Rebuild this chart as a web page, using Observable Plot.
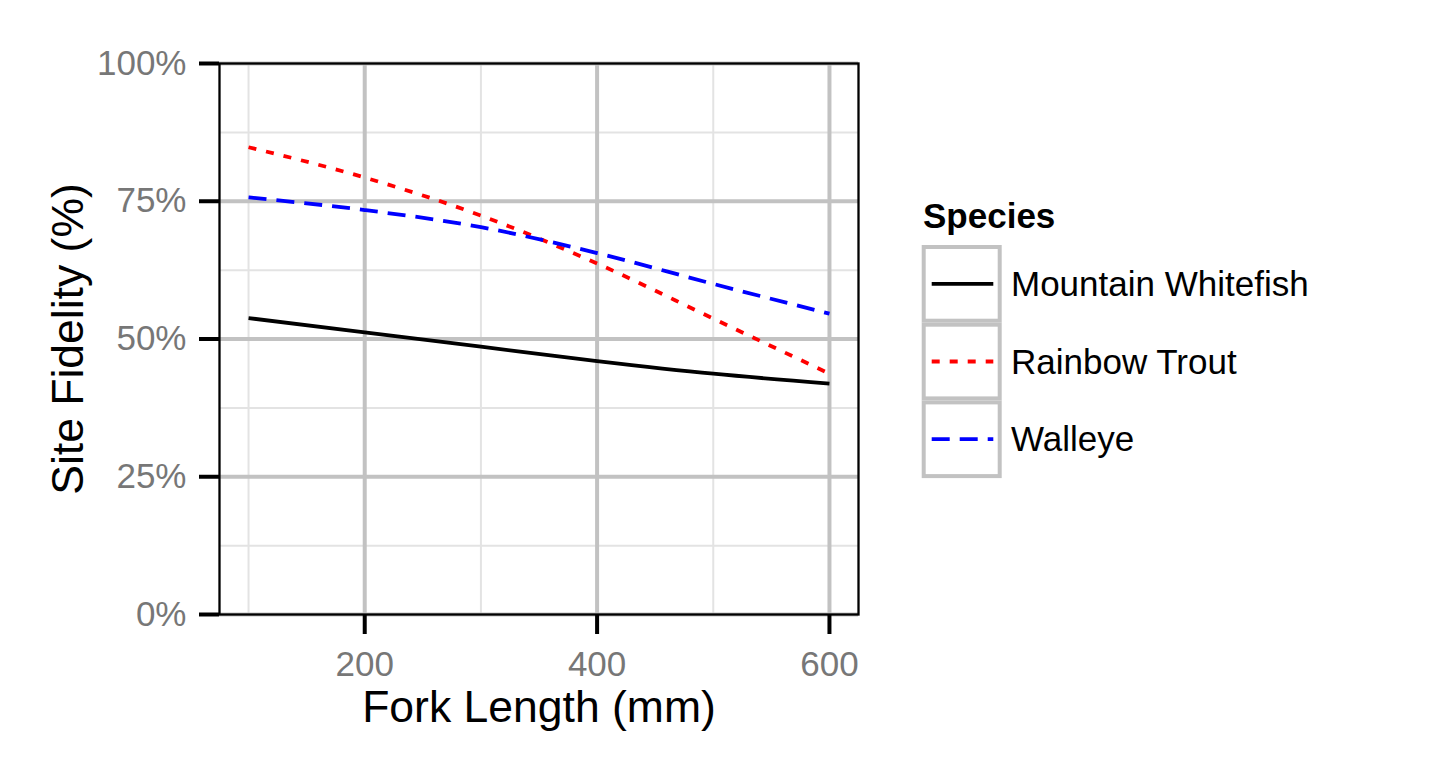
<!DOCTYPE html>
<html>
<head>
<meta charset="utf-8">
<script src="https://cdn.jsdelivr.net/npm/d3@7"></script>
<script src="https://cdn.jsdelivr.net/npm/@observablehq/plot@0.6"></script>
<style>
  html, body { margin: 0; padding: 0; background: white; }
  #wrap { position: relative; width: 1440px; height: 768px; font-family: "Liberation Sans", Arial, Helvetica, sans-serif; }
  #legend { position: absolute; left: 900px; top: 180px; }
</style>
</head>
<body>
<div id="wrap"></div>
<script>
// ---- data ----
const forkLength = [100, 200, 300, 400, 500, 600];
const species = ["Mountain Whitefish", "Rainbow Trout", "Walleye"];
const mountainWhitefish = [0.538, 0.512, 0.486, 0.460, 0.437, 0.419];
const rainbowTrout = [0.848, 0.793, 0.724, 0.637, 0.537, 0.437];
const walleye = [0.757, 0.734, 0.703, 0.656, 0.600, 0.546];
const xMajorTicks = [200, 400, 600];
const xMinorTicks = [100, 300, 500];
const yMajorTicks = [0, 0.25, 0.5, 0.75, 1];
const yMinorTicks = [0.125, 0.375, 0.625, 0.875];

// styles per species
const speciesColor = ["#000000", "#ff0000", "#0000ff"];
const speciesDash = [null, "8,10", "18,10"];

const seriesValues = [mountainWhitefish, rainbowTrout, walleye];
const rows = species.flatMap((s, i) => forkLength.map((x, j) => ({species: s, x, y: seriesValues[i][j]})));

const font = "Liberation Sans, Arial, Helvetica, sans-serif";

const lineMarks = species.map((s, i) => Plot.line(rows.filter(d => d.species === s), {
  x: "x", y: "y", stroke: speciesColor[i], strokeWidth: 3.8,
  strokeDasharray: speciesDash[i], strokeLinecap: "butt", curve: "monotone-x"
}));

const chart = Plot.plot({
  width: 1440,
  height: 768,
  marginLeft: 219,
  marginRight: 582,
  marginTop: 63,
  marginBottom: 154,
  style: {fontFamily: font, background: "white", overflow: "visible"},
  x: {domain: [75, 625]},
  y: {domain: [0, 1]},
  marks: [
    Plot.gridX(xMinorTicks, {stroke: "#e3e3e3", strokeOpacity: 1, strokeWidth: 2}),
    Plot.gridY(yMinorTicks, {stroke: "#e3e3e3", strokeOpacity: 1, strokeWidth: 2}),
    Plot.gridX(xMajorTicks, {stroke: "#c2c2c2", strokeOpacity: 1, strokeWidth: 4}),
    Plot.gridY(yMajorTicks, {stroke: "#c2c2c2", strokeOpacity: 1, strokeWidth: 4}),
    ...lineMarks,
    Plot.frame({stroke: "black", strokeWidth: 2.3}),
    Plot.axisY(yMajorTicks, {tickSize: 20, tickPadding: 13, strokeWidth: 4, stroke: "black", fill: "#777777",
      fontSize: 35, tickFormat: d3.format(".0%"), label: null}),
    Plot.axisX(xMajorTicks, {tickSize: 20, tickPadding: 17, strokeWidth: 4, stroke: "black", fill: "#777777",
      fontSize: 35, tickFormat: d => String(d), label: null}),
    Plot.text(["Fork Length (mm)"], {frameAnchor: "bottom", textAnchor: "middle", lineAnchor: "bottom",
      dy: 107, fontSize: 44.5, fill: "black"}),
    Plot.text(["Site Fidelity (%)"], {frameAnchor: "left", textAnchor: "middle", lineAnchor: "middle",
      rotate: -90, dx: -151, fontSize: 44.5, fill: "black"})
  ]
});

const wrap = document.getElementById("wrap");
wrap.appendChild(chart);

// ---- legend ----
const legendTitle = "Species";
const leg = d3.select(wrap).append("svg")
  .attr("id", "legend")
  .attr("width", 540).attr("height", 320)
  .style("font-family", font);

leg.append("text").attr("x", 23).attr("y", 48)
  .attr("font-size", 35).attr("font-weight", "bold").attr("fill", "black")
  .text(legendTitle);

const keyH = 77.7;
const g = leg.selectAll("g.key").data(species).join("g").attr("class", "key")
  .attr("transform", (d, i) => `translate(0, ${i * keyH})`);

g.append("rect").attr("x", 23.7).attr("y", 67).attr("width", 76).attr("height", keyH - 4)
  .attr("fill", "white").attr("stroke", "#c2c2c2").attr("stroke-width", 4);
g.append("line").attr("x1", 31.7).attr("x2", 93.3).attr("y1", 103.8).attr("y2", 103.8)
  .attr("stroke", (d, i) => speciesColor[i]).attr("stroke-width", 3.8)
  .attr("stroke-dasharray", (d, i) => speciesDash[i]);
g.append("text").attr("x", 111).attr("y", 116)
  .attr("font-size", 35).attr("fill", "black").text(d => d);
</script>
</body>
</html>
